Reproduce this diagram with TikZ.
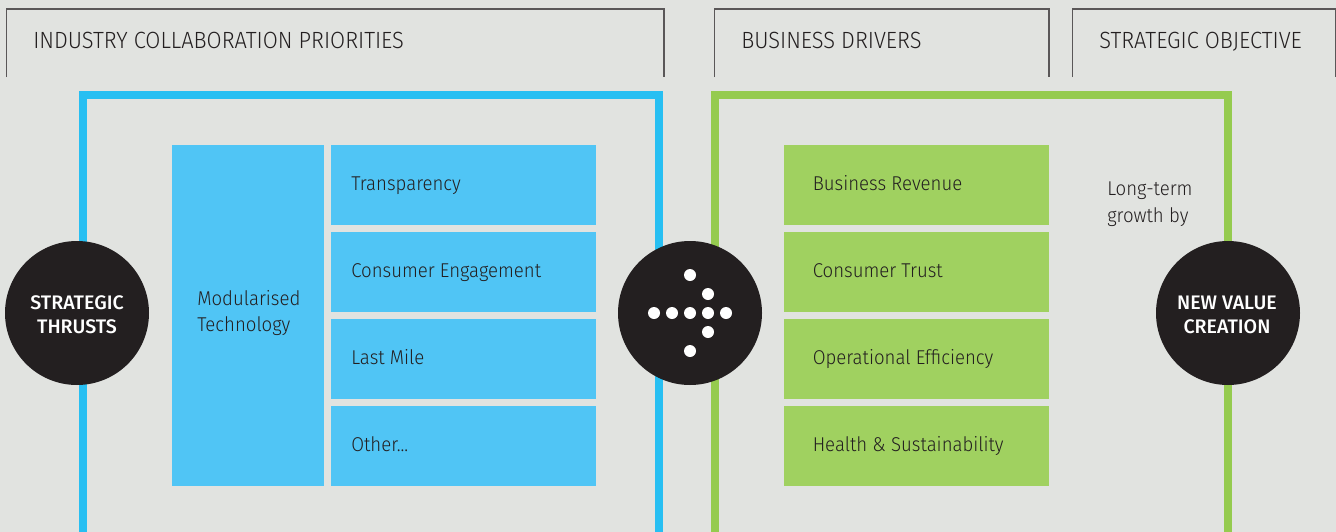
\documentclass[tikz,border=0pt]{standalone}
\usepackage{fontspec}
\setmainfont{Fira Sans Light}[FakeStretch=0.93,BoldFont={Fira Sans Medium},BoldFeatures={FakeStretch=1.0}]
\usetikzlibrary{positioning}
\definecolor{paper}{HTML}{E1E3E0}
\definecolor{ink}{HTML}{231F20}
\definecolor{frameblue}{HTML}{27BFF2}
\definecolor{boxblue}{HTML}{50C5F5}
\definecolor{framegreen}{HTML}{95CB4F}
\definecolor{boxgreen}{HTML}{A0D160}
\tikzset{
  tabline/.style={draw=ink!75,line width=0.9pt},
  tabtext/.style={anchor=base west,inner sep=0pt,text=ink,font=\fontsize{17.6}{20}\selectfont},
  frameline/.style={line width=6pt,miter limit=10},
  bluebox/.style={fill=boxblue,minimum height=60pt,minimum width=198.75pt,inner sep=0pt,outer sep=0pt},
  greenbox/.style={fill=boxgreen,minimum height=60pt,minimum width=198.75pt,inner sep=0pt,outer sep=0pt},
  boxtext/.style={anchor=base west,inner sep=0pt,text=ink,font=\fontsize{15}{17}\selectfont},
  disc/.style={circle,fill=ink,minimum size=108pt,inner sep=0pt},
  disctext/.style={text=white,align=center,inner sep=0pt,font=\fontsize{14.7}{18}\selectfont\bfseries},
  dot/.style={circle,fill=white,minimum size=9pt,inner sep=0pt}
}
\begin{document}
\begin{tikzpicture}[x=0.75pt,y=0.75pt,yscale=-1]
\fill[paper] (0,0) rectangle (1336,532);
\useasboundingbox (0,0) rectangle (1336,532);

%Tabs
\draw[tabline] (6.5,77) -- (6.5,9) -- (664,9) -- (664,77);
\draw[tabline] (714.5,77) -- (714.5,9) -- (1049,9) -- (1049,77);
\draw[tabline] (1072.5,77) -- (1072.5,9) -- (1335.5,9) -- (1335.5,77);
\node[tabtext] (tabindustry) at (33,48) {INDUSTRY COLLABORATION PRIORITIES};
\node[tabtext] (tabdrivers) at (741,48) {BUSINESS DRIVERS};
\node[tabtext] (tabobjective) at (1099,48) {STRATEGIC OBJECTIVE};

%Frames
\draw[frameline,frameblue] (83,532) -- (83,95) -- (659,95) -- (659,532);
\draw[frameline,framegreen] (715,532) -- (715,95) -- (1228,95) -- (1228,532);

%Blue boxes
\fill[boxblue] (172,145) rectangle (324,486);
\node[boxtext] (modular) at (197,305.5) {Modularised};
\node[boxtext] (technology) at (197,331.5) {Technology};
\node[bluebox] (transparency) at (463.5,185) {};
\node[bluebox,below=5.25pt of transparency] (engagement) {};
\node[bluebox,below=5.25pt of engagement] (lastmile) {};
\node[bluebox,below=5.25pt of lastmile] (other) {};
\node[boxtext] (ttransparency) at (351,190.5) {Transparency};
\node[boxtext] (tengagement) at (351,277.5) {Consumer Engagement};
\node[boxtext] (tlastmile) at (351,364.5) {Last Mile};
\node[boxtext] (tother) at (351,451.5) {Other...};

%Green boxes
\node[greenbox] (revenue) at (916.5,185) {};
\node[greenbox,below=5.25pt of revenue] (trust) {};
\node[greenbox,below=5.25pt of trust] (efficiency) {};
\node[greenbox,below=5.25pt of efficiency] (health) {};
\node[boxtext] (trevenue) at (812.5,190.5) {Business Revenue};
\node[boxtext] (ttrust) at (812.5,277.5) {Consumer Trust};
\node[boxtext] (tefficiency) at (812.5,364.5) {Operational Efficiency};
\node[boxtext] (thealth) at (812.5,451.5) {Health \& Sustainability};
\node[boxtext] (longterm) at (1107,195.5) {Long-term};
\node[boxtext] (growth) at (1107,222.5) {growth by};

%Discs
\node[disc] (thrusts) at (77,313) {};
\node[disc] (middle) at (690,313) {};
\node[disc] (creation) at (1228,313) {};
\node[disctext] (tthrusts) at (77,315) {STRATEGIC\\THRUSTS};
\node[disctext] (tcreation) at (1227,315) {NEW VALUE\\CREATION};

%Arrow of dots
\foreach \px/\py in {690/275,708/294,654/313,672/313,690/313,708/313,726/313,708/332,690/351}
  \node[dot] at (\px,\py) {};
\end{tikzpicture}
\end{document}
